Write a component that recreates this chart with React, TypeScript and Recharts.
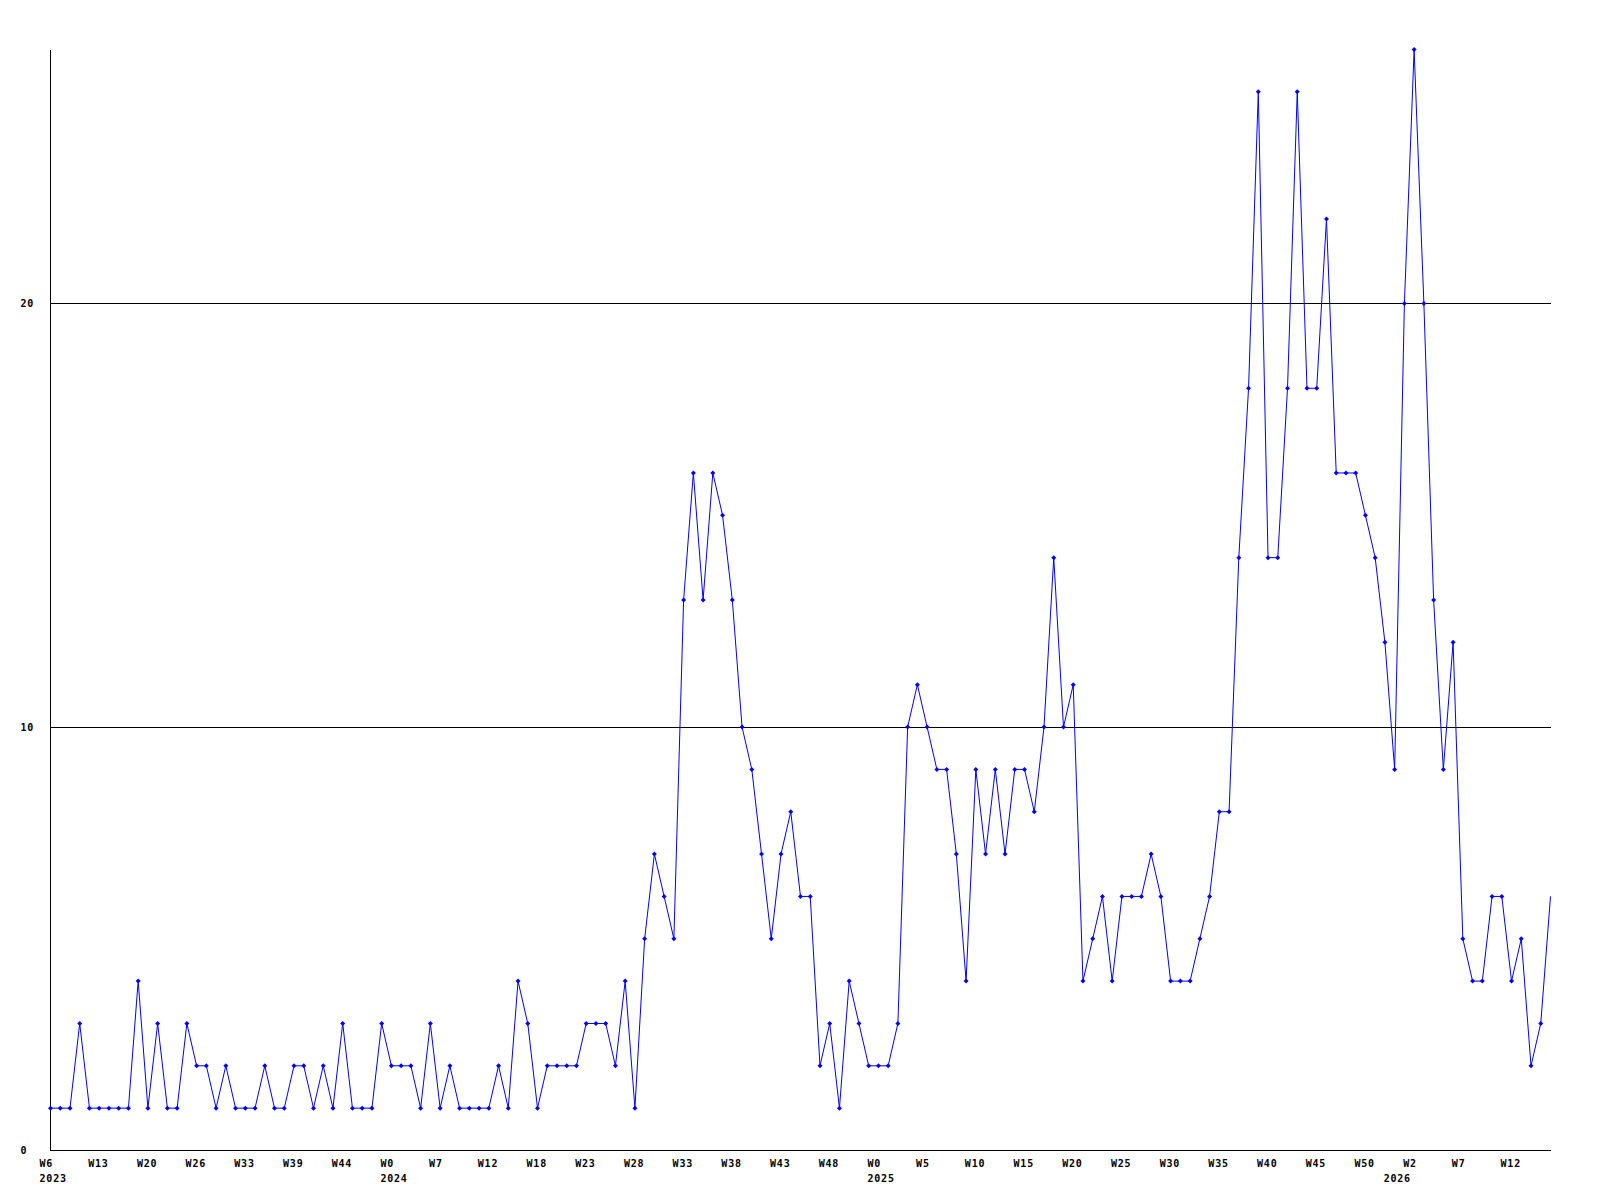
import React from 'react';
import { LineChart, Line, XAxis, YAxis, ReferenceLine } from 'recharts';

// Series values, one per period, oldest first
const values: number[] = [
  1, 1, 1, 3, 1, 1, 1, 1, 1, 4,
  1, 3, 1, 1, 3, 2, 2, 1, 2, 1,
  1, 1, 2, 1, 1, 2, 2, 1, 2, 1,
  3, 1, 1, 1, 3, 2, 2, 2, 1, 3,
  1, 2, 1, 1, 1, 1, 2, 1, 4, 3,
  1, 2, 2, 2, 2, 3, 3, 3, 2, 4,
  1, 5, 7, 6, 5, 13, 16, 13, 16, 15,
  13, 10, 9, 7, 5, 7, 8, 6, 6, 2,
  3, 1, 4, 3, 2, 2, 2, 3, 10, 11,
  10, 9, 9, 7, 4, 9, 7, 9, 7, 9,
  9, 8, 10, 14, 10, 11, 4, 5, 6, 4,
  6, 6, 6, 7, 6, 4, 4, 4, 5, 6,
  8, 8, 14, 18, 25, 14, 14, 18, 25, 18,
  18, 22, 16, 16, 16, 15, 14, 12, 9, 20,
  26, 20, 13, 9, 12, 5, 4, 4, 6, 6,
  4, 5, 2, 3, 6,
];

// Week tick labels shown every 5 points
const tickLabels: string[] = [
  'W6', 'W13', 'W20', 'W26', 'W33', 'W39', 'W44', 'W0', 'W7', 'W12',
  'W18', 'W23', 'W28', 'W33', 'W38', 'W43', 'W48', 'W0', 'W5', 'W10',
  'W15', 'W20', 'W25', 'W30', 'W35', 'W40', 'W45', 'W50', 'W2', 'W7', 'W12',
];
const tickStep = 5;

// Year labels and the point index where each year starts
const yearLabels: string[] = ['2023', '2024', '2025', '2026'];
const yearStartIndex: number[] = [0, 35, 85, 138];

const yTicks: number[] = [0, 10, 20];
const yMax = 26;

const data = values.map((v, i) => ({ i, v }));
const xTicks = tickLabels.map((_, k) => k * tickStep);

const FONT = '"DejaVu Sans Mono", monospace';
const textProps = {
  fontFamily: FONT,
  fontWeight: 'bold' as const,
  fontSize: 10,
  letterSpacing: 0.8,
  fill: '#000',
  textAnchor: 'start' as const,
};

const XTick = (props: any) => {
  const { x, y, payload } = props;
  const k = Math.round(payload.value / tickStep);
  return (
    <text x={x - 11} y={y + 16.5} {...textProps}>
      {tickLabels[k]}
    </text>
  );
};

const YearTick = (props: any) => {
  const { x, y, payload } = props;
  const k = yearStartIndex.indexOf(payload.value);
  return (
    <text x={x - 11} y={y + 16} {...textProps}>
      {yearLabels[k]}
    </text>
  );
};

const YTick = (props: any) => {
  const { x, y, payload } = props;
  return (
    <text x={x - 30} y={y + 3.6} {...textProps}>
      {payload.value}
    </text>
  );
};

const Marker = (props: any) => {
  const { cx, cy, index } = props;
  if (index === values.length - 1 || cx == null || cy == null) return <g key={`m${index}`} />;
  const r = 2.5;
  return (
    <path
      key={`m${index}`}
      d={`M${cx},${cy - r} L${cx + r},${cy} L${cx},${cy + r} L${cx - r},${cy} Z`}
      fill="#0000ff"
      stroke="none"
    />
  );
};

export default function App() {
  return (
    <div style={{ position: 'absolute', left: 0, top: 0, width: 1600, height: 1200, background: '#fff' }}>
      <LineChart width={1600} height={1200} data={data} margin={{ top: 49.5, right: 49.5, bottom: 0, left: 0 }}>
        <XAxis
          dataKey="i"
          type="number"
          domain={[0, values.length - 1]}
          ticks={xTicks}
          interval={0}
          tick={<XTick />}
          tickLine={false}
          tickSize={0}
          tickMargin={0}
          axisLine={{ stroke: '#000', strokeWidth: 1, shapeRendering: 'crispEdges' }}
          height={15}
        />
        <XAxis
          xAxisId="years"
          dataKey="i"
          type="number"
          domain={[0, values.length - 1]}
          ticks={yearStartIndex}
          interval={0}
          tick={<YearTick />}
          tickLine={false}
          tickSize={0}
          tickMargin={0}
          axisLine={false}
          height={34.5}
        />
        <YAxis
          type="number"
          domain={[0, yMax]}
          ticks={yTicks}
          interval={0}
          tick={<YTick />}
          tickLine={false}
          tickSize={0}
          tickMargin={0}
          axisLine={{ stroke: '#000', strokeWidth: 1, shapeRendering: 'crispEdges' }}
          width={50.5}
        />
        {yTicks.filter((t) => t > 0).map((t) => (
          <ReferenceLine key={t} y={t} stroke="#000" strokeWidth={1} shapeRendering="crispEdges" ifOverflow="visible" />
        ))}
        <Line
          type="linear"
          dataKey="v"
          stroke="#0000ff"
          strokeWidth={1}
          dot={Marker}
          activeDot={false}
          isAnimationActive={false}
        />
      </LineChart>
    </div>
  );
}
